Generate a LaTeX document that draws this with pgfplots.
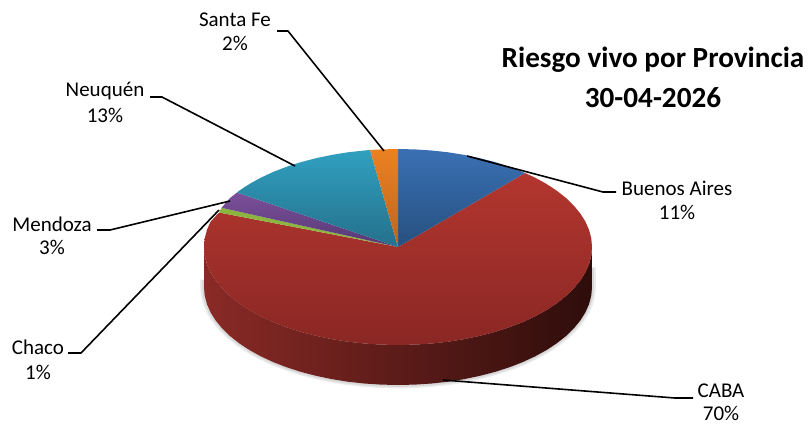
\documentclass[border=0pt]{standalone}
\usepackage{pgfplots}
\usepackage{pgfplotstable}
\pgfplotsset{compat=1.18}
\usepackage{fontspec}
\setmainfont{Carlito}
\definecolor{bluetop}{HTML}{3A70B4}\definecolor{bluebot}{HTML}{26507F}
\definecolor{redtop}{HTML}{B3362F}\definecolor{redbot}{HTML}{8A2724}
\definecolor{tealtop}{HTML}{30A0C0}\definecolor{tealbot}{HTML}{25708A}
\definecolor{orgtop}{HTML}{EC8122}\definecolor{orgbot}{HTML}{BC651E}
\definecolor{purtop}{HTML}{7C509C}\definecolor{purbot}{HTML}{553872}
\definecolor{grn}{HTML}{8CB540}
\definecolor{sideL}{HTML}{8A2A26}\definecolor{sideM}{HTML}{521614}\definecolor{sideR}{HTML}{2E0D0B}
\pgfplotstableread{
x y
204 287
204.7 295.5
206.9 304
210.6 312.4
215.7 320.5
222.2 328.4
230 336
239.1 343.2
249.4 350
260.8 356.3
273.3 362.1
286.7 367.3
301 371.9
316 375.8
331.7 379.1
347.8 381.7
364.3 383.5
381.1 384.6
398 385
414.9 384.6
431.7 383.5
448.2 381.7
464.3 379.1
480 375.8
495 371.9
509.3 367.3
522.7 362.1
535.2 356.3
546.6 350
556.9 343.2
566 336
573.8 328.4
580.3 320.5
585.4 312.4
589.1 304
591.3 295.5
592 287
592 268
204 280
}\shadowtab
\begin{document}
\begin{tikzpicture}
\begin{axis}[
  scale only axis, width=808pt, height=424pt,
  xmin=0, xmax=808, ymin=0, ymax=424, y dir=reverse,
  hide axis, clip=false,
]
% page frame
\addplot[draw=none, fill=white] coordinates {(0,0)(808,0)(808,424)(0,424)} -- cycle;
% shadow
\addplot[draw=none, fill=black, fill opacity=.08] table[x expr=398+(\thisrow{x}-398)*1.02, y expr=287+(\thisrow{y}-287)*1.035] {\shadowtab} -- cycle;
\addplot[draw=none, fill=black, fill opacity=.08] table[x expr=398+(\thisrow{x}-398)*1.01, y expr=287+(\thisrow{y}-287)*1.02] {\shadowtab} -- cycle;
% side
\addplot[draw=none, left color=sideL, middle color=sideM, right color=sideR] coordinates {
(204,247)(204.7,255.5)(206.9,264)(210.6,272.4)(215.7,280.5)(222.2,288.4)(230,296)(239.1,303.2)(249.4,310)(260.8,316.3)(273.3,322.1)(286.7,327.3)(301,331.9)(316,335.8)(331.7,339.1)(347.8,341.7)(364.3,343.5)(381.1,344.6)(398,345)(414.9,344.6)(431.7,343.5)(448.2,341.7)(464.3,339.1)(480,335.8)(495,331.9)(509.3,327.3)(522.7,322.1)(535.2,316.3)(546.6,310)(556.9,303.2)(566,296)(573.8,288.4)(580.3,280.5)(585.4,272.4)(589.1,264)(591.3,255.5)(592,247)
(592,287)(591.3,295.5)(589.1,304)(585.4,312.4)(580.3,320.5)(573.8,328.4)(566,336)(556.9,343.2)(546.6,350)(535.2,356.3)(522.7,362.1)(509.3,367.3)(495,371.9)(480,375.8)(464.3,379.1)(448.2,381.7)(431.7,383.5)(414.9,384.6)(398,385)(381.1,384.6)(364.3,383.5)(347.8,381.7)(331.7,379.1)(316,375.8)(301,371.9)(286.7,367.3)(273.3,362.1)(260.8,356.3)(249.4,350)(239.1,343.2)(230,336)(222.2,328.4)(215.7,320.5)(210.6,312.4)(206.9,304)(204.7,295.5)(204,287)
} -- cycle;
% CABA
\addplot[draw=none, top color=redtop, bottom color=redbot] coordinates {
(398,247)(525,173)(535.2,177.7)(546.6,184)(556.9,190.8)(566,198)(573.8,205.6)(580.3,213.5)(585.4,221.6)(589.1,230)(591.3,238.5)(592,247)(591.3,255.5)(589.1,264)(585.4,272.4)(580.3,280.5)(573.8,288.4)(566,296)(556.9,303.2)(546.6,310)(535.2,316.3)(522.7,322.1)(509.3,327.3)(495,331.9)(480,335.8)(464.3,339.1)(448.2,341.7)(431.7,343.5)(414.9,344.6)(398,345)(381.1,344.6)(364.3,343.5)(347.8,341.7)(331.7,339.1)(316,335.8)(301,331.9)(286.7,327.3)(273.3,322.1)(260.8,316.3)(249.4,310)(239.1,303.2)(230,296)(222.2,288.4)(215.7,280.5)(210.6,272.4)(206.9,264)(204.7,255.5)(204,247)(204.7,238.5)(206.9,230)(210.6,221.6)(219,212.5)
} -- cycle;
% Buenos Aires
\addplot[draw=none, top color=bluetop, bottom color=bluebot] coordinates {
(398,247)(398,149)(414.9,149.4)(431.7,150.5)(448.2,152.3)(464.3,154.9)(480,158.2)(495,162.1)(509.3,166.7)(525,173)
} -- cycle;
% Chaco
\addplot[draw=none, fill=grn] coordinates {(398,247)(219,212.5)(221.5,207.8)} -- cycle;
% Mendoza
\addplot[draw=none, top color=purtop, bottom color=purbot] coordinates {(398,247)(221.5,207.8)(230,198)(237,192.5)} -- cycle;
% Neuquen
\addplot[draw=none, top color=tealtop, bottom color=tealbot] coordinates {
(398,247)(237,192.5)(239.1,190.8)(249.4,184)(260.8,177.7)(273.3,171.9)(286.7,166.7)(301,162.1)(316,158.2)(331.7,154.9)(347.8,152.3)(364.3,150.5)(370,150)
} -- cycle;
% Santa Fe
\addplot[draw=none, top color=orgtop, bottom color=orgbot] coordinates {(398,247)(370,150)(381.1,149.4)(398,149)} -- cycle;
% leaders
\pgfplotsset{leader/.style={draw=black, line width=1.6pt, no marks, sharp plot, line join=round}}
\addplot[leader] coordinates {(277,31)(288,31)(384,151)};
\addplot[leader] coordinates {(150,97)(162,97)(295,166)};
\addplot[leader] coordinates {(97,230)(110,230)(230,201)};
\addplot[leader] coordinates {(68,353)(81,353)(219,210)};
\addplot[leader] coordinates {(616,192)(603,192)(467,156)};
\addplot[leader] coordinates {(443,380)(675,398)(693,398)};
% labels
\begin{scope}[every node/.style={font=\fontsize{21pt}{24pt}\selectfont, inner sep=0pt, anchor=center}]
\node at (axis cs:235,20) {Santa Fe};
\node at (axis cs:235,43) {2\%};
\node at (axis cs:105,91) {Neuquén};
\node at (axis cs:105,115) {13\%};
\node at (axis cs:52,224) {Mendoza};
\node at (axis cs:52,247) {3\%};
\node at (axis cs:38,347) {Chaco};
\node at (axis cs:38,372) {1\%};
\node at (axis cs:677,188) {Buenos Aires};
\node at (axis cs:677,212) {11\%};
\node at (axis cs:721,391) {CABA};
\node at (axis cs:721,413) {70\%};
\end{scope}
\node[font=\fontsize{29.2pt}{34pt}\selectfont\bfseries, inner sep=0pt] at (axis cs:653,60) {Riesgo vivo por Provincia};
\node[font=\fontsize{29.2pt}{34pt}\selectfont\bfseries, inner sep=0pt] at (axis cs:653,98) {30-04-2026};
\end{axis}
\end{tikzpicture}
\end{document}
